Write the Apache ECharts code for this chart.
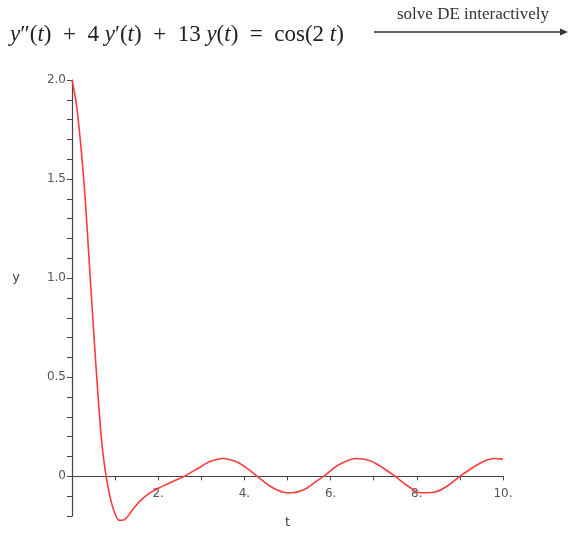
<!DOCTYPE html>
<html>
<head>
<meta charset="utf-8">
<script src="https://cdn.jsdelivr.net/npm/echarts@6/dist/echarts.min.js"></script>
<style>
html,body{margin:0;padding:0;background:#fff;}
#chart{width:571px;height:533px;}
</style>
</head>
<body>
<div id="chart"></div>
<script>
// Values
const tValues = [0, 0.1, 0.2, 0.3, 0.4, 0.5, 0.6, 0.7, 0.8, 0.9, 1.0, 1.1, 1.2, 1.3, 1.4, 1.6, 1.8, 2.0, 2.2, 2.4, 2.6, 2.8, 3.0, 3.2, 3.5, 3.8, 4.0, 4.3, 4.6, 4.9, 5.1, 5.4, 5.7, 5.9, 6.2, 6.6, 6.9, 7.2, 7.5, 7.8, 8.1, 8.4, 8.7, 9.0, 9.3, 9.6, 9.8, 10.0];
const yValues = [2.0, 1.88, 1.68, 1.42, 1.08, 0.74, 0.42, 0.15, -0.01, -0.12, -0.19, -0.222, -0.22, -0.20, -0.17, -0.12, -0.085, -0.06, -0.04, -0.02, 0.0, 0.025, 0.05, 0.075, 0.09, 0.075, 0.05, 0.0, -0.05, -0.08, -0.083, -0.065, -0.02, 0.01, 0.06, 0.09, 0.08, 0.045, 0.0, -0.05, -0.083, -0.08, -0.05, 0.0, 0.045, 0.08, 0.09, 0.087];
const yTickLabels = {"0": "0", "5": "0.5", "10": "1.0", "15": "1.5", "20": "2.0"};
const xTickLabels = {"2": "2.", "4": "4.", "6": "6.", "8": "8.", "10": "10."};

const yMin = -0.2, yMax = 2.0;
const gridTop = 80, gridBottom = 17, chartH = 533;
const plotH = chartH - gridTop - gridBottom;
// lift the x axis from the grid bottom to the y = 0 line
const xAxisOffset = -(0 - yMin) / (yMax - yMin) * plotH;

const chart = echarts.init(document.getElementById('chart'));
const data = tValues.map((t, i) => [t, yValues[i]]);
const axisColor = '#444';
chart.setOption({
  animation: false,
  backgroundColor: '#fff',
  grid: {left: 72, right: 68, top: gridTop, bottom: gridBottom, containLabel: false, outerBoundsMode: 'none'},
  xAxis: {
    type: 'value', min: 0, max: 10, interval: 1, position: 'bottom', offset: xAxisOffset,
    axisLine: {onZero: false, lineStyle: {color: axisColor, width: 1.2}},
    axisTick: {show: true, length: 4, lineStyle: {color: axisColor}},
    splitLine: {show: false},
    axisLabel: {
      color: '#555', fontSize: 12, fontFamily: 'DejaVu Sans', margin: 12,
      formatter: v => xTickLabels[String(Math.round(v))] || ''
    },
    name: 't', nameLocation: 'middle', nameGap: 40,
    nameTextStyle: {color: '#444', fontSize: 13, fontFamily: 'DejaVu Sans'}
  },
  yAxis: {
    type: 'value', min: yMin, max: yMax, interval: 0.1,
    axisLine: {show: true, onZero: false, lineStyle: {color: axisColor, width: 1.2}},
    axisTick: {show: true, length: 5, lineStyle: {color: axisColor}},
    splitLine: {show: false},
    axisLabel: {
      color: '#555', fontSize: 12, fontFamily: 'DejaVu Sans', margin: 6,
      formatter: v => yTickLabels[String(Math.round(v * 10))] || ''
    }
  },
  series: [{
    type: 'line', data: data, smooth: 0.35, showSymbol: false, clip: false,
    lineStyle: {color: '#ff3b3b', width: 1.6}
  }],
  graphic: [
    {
      type: 'text', x: 16, y: 278,
      style: {text: 'y', font: '13px "DejaVu Sans"', fill: '#444', align: 'center', verticalAlign: 'middle'}
    },
    {
      type: 'text', left: 10, top: 23,
      style: {
        text: '{i|y}″({i|t})  +  4 {i|y}′({i|t})  +  13 {i|y}({i|t})  =  cos(2 {i|t})',
        font: '23px "Liberation Serif"', fill: '#222',
        rich: {i: {fontStyle: 'italic', fontFamily: 'Liberation Serif', fontSize: 23, fill: '#222'}}
      }
    },
    {
      type: 'text', x: 473, y: 15,
      style: {text: 'solve DE interactively', font: '17px "Liberation Serif"', fill: '#333', align: 'center', verticalAlign: 'middle'}
    },
    {
      type: 'line', shape: {x1: 374, y1: 32, x2: 562, y2: 32},
      style: {stroke: '#333', lineWidth: 1.5}
    },
    {
      type: 'polygon', shape: {points: [[568, 32], [560, 28.5], [560, 35.5]]},
      style: {fill: '#333'}
    }
  ]
});
</script>
</body>
</html>
